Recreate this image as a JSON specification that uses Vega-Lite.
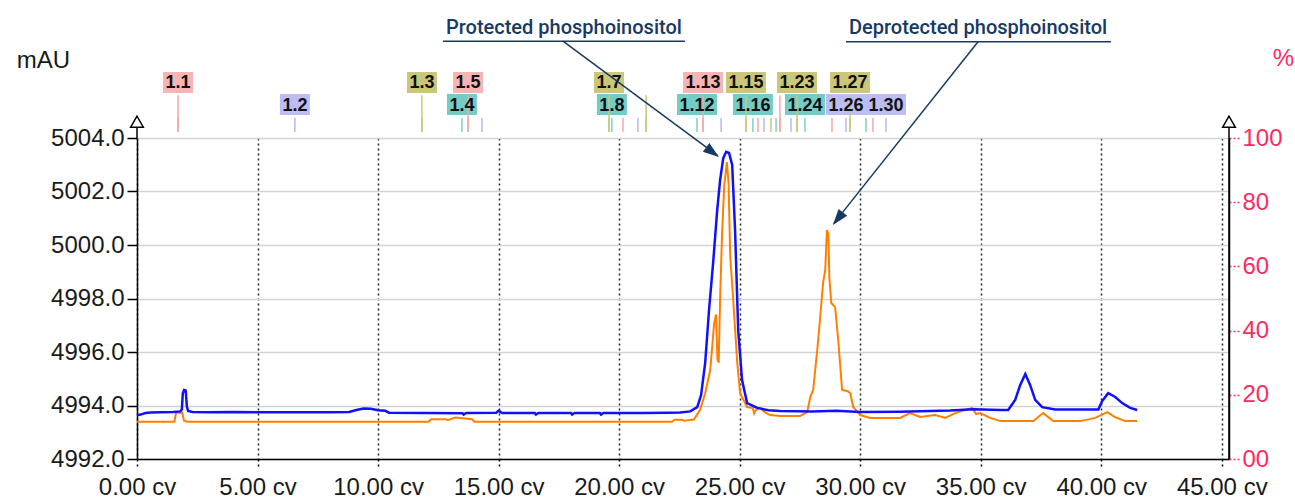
{
  "$schema": "https://vega.github.io/schema/vega-lite/v6.json",
  "autosize": "none",
  "width": 1092,
  "height": 321,
  "padding": {"left": 137, "top": 138, "right": 66, "bottom": 43},
  "background": "white",
  "config": {
    "view": {"stroke": null},
    "axis": {
      "labelFont": "Liberation Sans", "labelFontSize": 24, "labelColor": "#1a1a1a",
      "titleFont": "Liberation Sans", "titleFontSize": 24, "titleFontWeight": "normal", "titleColor": "#1a1a1a",
      "domainColor": "#000000", "domainWidth": 1.5, "tickColor": "#000000", "tickWidth": 1.5
    }
  },
  "datasets": {
    "blue": [
      {"cv": 0.00, "mAU": 4993.64}, {"cv": 0.15, "mAU": 4993.66}, {"cv": 0.35, "mAU": 4993.72}, {"cv": 0.55, "mAU": 4993.74},
      {"cv": 1.00, "mAU": 4993.75}, {"cv": 1.50, "mAU": 4993.76}, {"cv": 1.80, "mAU": 4993.78}, {"cv": 1.86, "mAU": 4993.85},
      {"cv": 1.90, "mAU": 4994.45}, {"cv": 1.95, "mAU": 4994.58}, {"cv": 2.02, "mAU": 4994.56}, {"cv": 2.07, "mAU": 4993.95},
      {"cv": 2.12, "mAU": 4993.80}, {"cv": 2.30, "mAU": 4993.76}, {"cv": 3.00, "mAU": 4993.75}, {"cv": 4.00, "mAU": 4993.76},
      {"cv": 5.00, "mAU": 4993.75}, {"cv": 8.00, "mAU": 4993.75}, {"cv": 8.80, "mAU": 4993.76}, {"cv": 9.10, "mAU": 4993.83},
      {"cv": 9.40, "mAU": 4993.89}, {"cv": 9.70, "mAU": 4993.88}, {"cv": 10.00, "mAU": 4993.82}, {"cv": 10.30, "mAU": 4993.80},
      {"cv": 10.45, "mAU": 4993.73}, {"cv": 12.00, "mAU": 4993.72}, {"cv": 13.50, "mAU": 4993.71}, {"cv": 13.55, "mAU": 4993.66},
      {"cv": 13.65, "mAU": 4993.72}, {"cv": 14.90, "mAU": 4993.73}, {"cv": 15.00, "mAU": 4993.80}, {"cv": 15.15, "mAU": 4993.72},
      {"cv": 16.50, "mAU": 4993.72}, {"cv": 16.55, "mAU": 4993.66}, {"cv": 16.65, "mAU": 4993.72}, {"cv": 18.00, "mAU": 4993.72},
      {"cv": 18.05, "mAU": 4993.66}, {"cv": 18.15, "mAU": 4993.72}, {"cv": 19.20, "mAU": 4993.72}, {"cv": 19.25, "mAU": 4993.66},
      {"cv": 19.35, "mAU": 4993.72}, {"cv": 21.00, "mAU": 4993.72}, {"cv": 22.00, "mAU": 4993.73}, {"cv": 22.53, "mAU": 4993.74},
      {"cv": 22.95, "mAU": 4993.78}, {"cv": 23.24, "mAU": 4993.94}, {"cv": 23.40, "mAU": 4994.39}, {"cv": 23.57, "mAU": 4995.59},
      {"cv": 23.73, "mAU": 4997.57}, {"cv": 23.90, "mAU": 4999.33}, {"cv": 24.07, "mAU": 5001.31}, {"cv": 24.19, "mAU": 5002.43},
      {"cv": 24.32, "mAU": 5003.25}, {"cv": 24.44, "mAU": 5003.48}, {"cv": 24.56, "mAU": 5003.44}, {"cv": 24.69, "mAU": 5002.99},
      {"cv": 24.81, "mAU": 5000.56}, {"cv": 24.94, "mAU": 4996.82}, {"cv": 25.10, "mAU": 4994.95}, {"cv": 25.31, "mAU": 4994.09},
      {"cv": 25.73, "mAU": 4993.91}, {"cv": 26.20, "mAU": 4993.82}, {"cv": 26.68, "mAU": 4993.79}, {"cv": 28.00, "mAU": 4993.78},
      {"cv": 29.00, "mAU": 4993.80}, {"cv": 30.00, "mAU": 4993.76}, {"cv": 31.66, "mAU": 4993.77}, {"cv": 33.73, "mAU": 4993.81},
      {"cv": 34.69, "mAU": 4993.86}, {"cv": 35.81, "mAU": 4993.83}, {"cv": 36.14, "mAU": 4993.83}, {"cv": 36.43, "mAU": 4994.21},
      {"cv": 36.64, "mAU": 4994.77}, {"cv": 36.85, "mAU": 4995.18}, {"cv": 37.05, "mAU": 4994.77}, {"cv": 37.26, "mAU": 4994.21},
      {"cv": 37.55, "mAU": 4993.94}, {"cv": 38.09, "mAU": 4993.85}, {"cv": 39.88, "mAU": 4993.85}, {"cv": 40.04, "mAU": 4994.17},
      {"cv": 40.29, "mAU": 4994.46}, {"cv": 40.58, "mAU": 4994.32}, {"cv": 40.87, "mAU": 4994.09}, {"cv": 41.20, "mAU": 4993.91},
      {"cv": 41.49, "mAU": 4993.83}
    ],
    "orange": [
      {"cv": 0.00, "pct": 11.6}, {"cv": 1.55, "pct": 11.6}, {"cv": 1.62, "pct": 14.4}, {"cv": 1.88, "pct": 14.4},
      {"cv": 1.95, "pct": 11.9}, {"cv": 2.10, "pct": 11.6}, {"cv": 12.10, "pct": 11.6}, {"cv": 12.20, "pct": 12.4},
      {"cv": 12.80, "pct": 12.4}, {"cv": 12.90, "pct": 12.1}, {"cv": 13.00, "pct": 12.4}, {"cv": 13.20, "pct": 12.9},
      {"cv": 13.50, "pct": 12.7}, {"cv": 13.90, "pct": 12.4}, {"cv": 14.00, "pct": 11.6}, {"cv": 22.20, "pct": 11.6},
      {"cv": 22.30, "pct": 12.2}, {"cv": 22.60, "pct": 12.2}, {"cv": 22.70, "pct": 11.9}, {"cv": 23.10, "pct": 12.3},
      {"cv": 23.36, "pct": 15.3}, {"cv": 23.57, "pct": 20.5}, {"cv": 23.78, "pct": 27.7}, {"cv": 23.94, "pct": 42},
      {"cv": 24.02, "pct": 45}, {"cv": 24.08, "pct": 31}, {"cv": 24.13, "pct": 30}, {"cv": 24.19, "pct": 50},
      {"cv": 24.27, "pct": 70}, {"cv": 24.36, "pct": 85}, {"cv": 24.47, "pct": 92.5}, {"cv": 24.54, "pct": 86},
      {"cv": 24.61, "pct": 63}, {"cv": 24.73, "pct": 50}, {"cv": 24.90, "pct": 30}, {"cv": 25.02, "pct": 20.5},
      {"cv": 25.31, "pct": 16.2}, {"cv": 25.55, "pct": 15.9}, {"cv": 25.60, "pct": 14.2}, {"cv": 25.70, "pct": 15.5},
      {"cv": 25.85, "pct": 15.9}, {"cv": 26.06, "pct": 14.5}, {"cv": 26.27, "pct": 13.7}, {"cv": 26.68, "pct": 13.4},
      {"cv": 27.51, "pct": 13.4}, {"cv": 27.80, "pct": 14.6}, {"cv": 27.93, "pct": 19.3}, {"cv": 28.05, "pct": 21.5},
      {"cv": 28.22, "pct": 34}, {"cv": 28.34, "pct": 44}, {"cv": 28.46, "pct": 54.8}, {"cv": 28.55, "pct": 58.9},
      {"cv": 28.62, "pct": 71.3}, {"cv": 28.68, "pct": 70}, {"cv": 28.72, "pct": 56.7}, {"cv": 28.80, "pct": 48.6},
      {"cv": 28.96, "pct": 47.3}, {"cv": 29.09, "pct": 37}, {"cv": 29.25, "pct": 21.5}, {"cv": 29.46, "pct": 21.2},
      {"cv": 29.59, "pct": 20.5}, {"cv": 29.71, "pct": 16.2}, {"cv": 30.00, "pct": 13.7}, {"cv": 30.41, "pct": 12.8},
      {"cv": 30.83, "pct": 12.8}, {"cv": 31.66, "pct": 12.8}, {"cv": 32.07, "pct": 14.3}, {"cv": 32.49, "pct": 13.1},
      {"cv": 33.11, "pct": 13.7}, {"cv": 33.53, "pct": 12.8}, {"cv": 33.94, "pct": 14.3}, {"cv": 34.36, "pct": 15.3},
      {"cv": 34.65, "pct": 15.9}, {"cv": 34.81, "pct": 14.0}, {"cv": 34.98, "pct": 14.3}, {"cv": 35.39, "pct": 12.8},
      {"cv": 35.81, "pct": 11.8}, {"cv": 37.18, "pct": 11.8}, {"cv": 37.59, "pct": 14.3}, {"cv": 38.01, "pct": 11.8},
      {"cv": 39.13, "pct": 11.8}, {"cv": 39.75, "pct": 12.8}, {"cv": 40.25, "pct": 14.6}, {"cv": 40.58, "pct": 13.0},
      {"cv": 41.00, "pct": 11.8}, {"cv": 41.49, "pct": 11.8}
    ],
    "fractions": [
      {"frac": 1, "label": "1.1", "cv": 1.70, "labeled": true},
      {"frac": 2, "label": "1.2", "cv": 6.55, "labeled": true},
      {"frac": 3, "label": "1.3", "cv": 11.82, "labeled": true},
      {"frac": 4, "label": "1.4", "cv": 13.48, "labeled": true},
      {"frac": 5, "label": "1.5", "cv": 13.73, "labeled": true},
      {"frac": 6, "label": "1.6", "cv": 14.31, "labeled": false},
      {"frac": 7, "label": "1.7", "cv": 19.58, "labeled": true},
      {"frac": 8, "label": "1.8", "cv": 19.70, "labeled": true},
      {"frac": 9, "label": "1.9", "cv": 20.16, "labeled": false},
      {"frac": 10, "label": "1.10", "cv": 20.78, "labeled": false},
      {"frac": 11, "label": "1.11", "cv": 21.12, "labeled": false},
      {"frac": 12, "label": "1.12", "cv": 23.23, "labeled": true},
      {"frac": 13, "label": "1.13", "cv": 23.48, "labeled": true},
      {"frac": 14, "label": "1.14", "cv": 24.23, "labeled": false},
      {"frac": 15, "label": "1.15", "cv": 25.26, "labeled": true},
      {"frac": 16, "label": "1.16", "cv": 25.55, "labeled": true},
      {"frac": 17, "label": "1.17", "cv": 25.76, "labeled": false},
      {"frac": 18, "label": "1.18", "cv": 26.01, "labeled": false},
      {"frac": 19, "label": "1.19", "cv": 26.30, "labeled": false},
      {"frac": 20, "label": "1.20", "cv": 26.51, "labeled": false},
      {"frac": 21, "label": "1.21", "cv": 26.67, "labeled": false},
      {"frac": 22, "label": "1.22", "cv": 27.13, "labeled": false},
      {"frac": 23, "label": "1.23", "cv": 27.38, "labeled": true},
      {"frac": 24, "label": "1.24", "cv": 27.71, "labeled": true},
      {"frac": 25, "label": "1.25", "cv": 28.83, "labeled": false},
      {"frac": 26, "label": "1.26", "cv": 29.41, "labeled": true},
      {"frac": 27, "label": "1.27", "cv": 29.58, "labeled": true},
      {"frac": 28, "label": "1.28", "cv": 30.24, "labeled": false},
      {"frac": 29, "label": "1.29", "cv": 30.53, "labeled": false},
      {"frac": 30, "label": "1.30", "cv": 31.07, "labeled": true}
    ]
  },
  "layer": [
    {
      "data": {"name": "orange"},
      "mark": {"type": "line", "color": "#ff8000", "strokeWidth": 2},
      "encoding": {
        "x": {
          "field": "cv", "type": "quantitative",
          "scale": {"domain": [0, 45.3], "nice": false, "zero": false},
          "axis": {
            "title": null, "values": [0, 5, 10, 15, 20, 25, 30, 35, 40, 45],
            "labelExpr": "format(datum.value, '.2f') + ' cv'",
            "grid": true, "gridColor": "#222222", "gridDash": [2, 3], "gridWidth": 1.5,
            "tickSize": 10, "tickDash": [2, 3], "labelPadding": 6,
            "labelOverlap": false, "labelFlush": false
          }
        },
        "y": {
          "field": "pct", "type": "quantitative",
          "scale": {"domain": [0, 100], "nice": false, "zero": false},
          "axis": {
            "orient": "right", "values": [0, 20, 40, 60, 80, 100],
            "labelExpr": "datum.value == 0 ? '00' : datum.label",
            "labelColor": "#ff2a60", "tickColor": "#ff2a60", "tickDash": [2, 2],
            "tickSize": 10, "labelPadding": 3, "grid": false,
            "title": "%", "titleColor": "#ff2a60", "titleAngle": 0,
            "titleX": 54, "titleY": -80, "titleAlign": "center", "titleBaseline": "middle"
          }
        }
      }
    },
    {
      "layer": [
        {
          "data": {"name": "blue"},
          "mark": {"type": "line", "color": "#1010ff", "strokeWidth": 2.5},
          "encoding": {
            "x": {"field": "cv", "type": "quantitative"},
            "y": {
              "field": "mAU", "type": "quantitative",
              "scale": {"domain": [4992, 5004], "nice": false, "zero": false},
              "axis": {
                "orient": "left", "values": [4992, 4994, 4996, 4998, 5000, 5002, 5004],
                "format": ".1f", "grid": true, "gridColor": "#d3d3d3", "gridWidth": 1.5,
                "tickSize": 10, "labelPadding": 3,
                "title": "mAU", "titleAngle": 0, "titleX": -94, "titleY": -78,
                "titleAlign": "center", "titleBaseline": "middle"
              }
            }
          }
        },
        {
          "data": {"name": "fractions"},
          "transform": [{"filter": "datum.labeled && datum.frac % 2 == 1"}],
          "mark": {"type": "point", "filled": true, "size": 400, "opacity": 1, "strokeWidth": 0},
          "encoding": {
            "x": {"field": "cv", "type": "quantitative"},
            "y": {"datum": 5006.075, "type": "quantitative"},
            "shape": {"condition": {"test": "length(datum.label) > 3", "value": "M-2,-1.05L2,-1.05L2,1.05L-2,1.05Z"}, "value": "M-1.5,-1.05L1.5,-1.05L1.5,1.05L-1.5,1.05Z"},
            "fill": {"condition": [
              {"test": "datum.frac % 4 == 1", "value": "#f6b4b4"},
              {"test": "datum.frac % 4 == 2", "value": "#bdbdf6"},
              {"test": "datum.frac % 4 == 3", "value": "#cac67a"}
            ], "value": "#74ccc6"}
          }
        },
        {
          "data": {"name": "fractions"},
          "transform": [{"filter": "datum.labeled && datum.frac % 2 == 0"}],
          "mark": {"type": "point", "filled": true, "size": 400, "opacity": 1, "strokeWidth": 0},
          "encoding": {
            "x": {"field": "cv", "type": "quantitative"},
            "y": {"datum": 5005.252, "type": "quantitative"},
            "shape": {"condition": {"test": "length(datum.label) > 3", "value": "M-2,-1.05L2,-1.05L2,1.05L-2,1.05Z"}, "value": "M-1.5,-1.05L1.5,-1.05L1.5,1.05L-1.5,1.05Z"},
            "fill": {"condition": [
              {"test": "datum.frac % 4 == 1", "value": "#f6b4b4"},
              {"test": "datum.frac % 4 == 2", "value": "#bdbdf6"},
              {"test": "datum.frac % 4 == 3", "value": "#cac67a"}
            ], "value": "#74ccc6"}
          }
        },
        {
          "data": {"name": "fractions"},
          "mark": {"type": "rule", "strokeWidth": 1.5},
          "encoding": {
            "x": {"field": "cv", "type": "quantitative"},
            "y": {"datum": 5004.224, "type": "quantitative"},
            "y2": {"datum": 5004.748},
            "stroke": {"condition": [
              {"test": "datum.frac % 4 == 1", "value": "#f4a8a8"},
              {"test": "datum.frac % 4 == 2", "value": "#b8b8f0"},
              {"test": "datum.frac % 4 == 3", "value": "#c9c77e"}
            ], "value": "#7fd0c8"}
          }
        },
        {
          "data": {"name": "fractions"},
          "transform": [{"filter": "(datum.labeled && datum.frac % 2 == 1) || datum.frac == 11 || datum.frac == 21"}],
          "mark": {"type": "rule", "strokeWidth": 1.5},
          "encoding": {
            "x": {"field": "cv", "type": "quantitative"},
            "y": {"datum": 5004.224, "type": "quantitative"},
            "y2": {"datum": 5005.6},
            "stroke": {"condition": [
              {"test": "datum.frac % 4 == 1", "value": "#f4a8a8"},
              {"test": "datum.frac % 4 == 2", "value": "#b8b8f0"},
              {"test": "datum.frac % 4 == 3", "value": "#c9c77e"}
            ], "value": "#7fd0c8"}
          }
        },
        {
          "data": {"name": "fractions"},
          "transform": [{"filter": "datum.labeled && datum.frac % 2 == 1"}],
          "mark": {"type": "text", "font": "Liberation Sans", "fontWeight": "bold", "fontSize": 18, "color": "#111111", "align": "center", "baseline": "middle", "dy": 1},
          "encoding": {
            "x": {"field": "cv", "type": "quantitative"},
            "y": {"datum": 5006.075, "type": "quantitative"},
            "text": {"field": "label"}
          }
        },
        {
          "data": {"name": "fractions"},
          "transform": [{"filter": "datum.labeled && datum.frac % 2 == 0"}],
          "mark": {"type": "text", "font": "Liberation Sans", "fontWeight": "bold", "fontSize": 18, "color": "#111111", "align": "center", "baseline": "middle", "dy": 1},
          "encoding": {
            "x": {"field": "cv", "type": "quantitative"},
            "y": {"datum": 5005.252, "type": "quantitative"},
            "text": {"field": "label"}
          }
        },
        {
          "data": {"values": [{}]},
          "mark": {"type": "rule", "color": "#000000", "strokeWidth": 1.5},
          "encoding": {
            "x": {"datum": 0, "type": "quantitative"},
            "y": {"datum": 5004, "type": "quantitative"},
            "y2": {"datum": 5004.42}
          }
        },
        {
          "data": {"values": [{}]},
          "mark": {"type": "rule", "color": "#000000", "strokeWidth": 1.5},
          "encoding": {
            "x": {"datum": 45.3, "type": "quantitative"},
            "y": {"datum": 4992, "type": "quantitative"},
            "y2": {"datum": 5004.42}
          }
        },
        {
          "data": {"values": [{}]},
          "mark": {"type": "point", "shape": "triangle-up", "size": 160, "filled": true, "fill": "#ffffff", "stroke": "#000000", "strokeWidth": 1.5, "opacity": 1},
          "encoding": {
            "x": {"datum": 0, "type": "quantitative"},
            "y": {"datum": 5004.61, "type": "quantitative"}
          }
        },
        {
          "data": {"values": [{}]},
          "mark": {"type": "point", "shape": "triangle-up", "size": 160, "filled": true, "fill": "#ffffff", "stroke": "#000000", "strokeWidth": 1.5, "opacity": 1},
          "encoding": {
            "x": {"datum": 45.3, "type": "quantitative"},
            "y": {"datum": 5004.61, "type": "quantitative"}
          }
        },
        {
          "data": {"values": [{}]},
          "mark": {"type": "text", "text": "Protected phosphoinositol", "font": "Roboto", "fontWeight": 500, "fontSize": 20, "color": "#173a63", "align": "center", "baseline": "alphabetic"},
          "encoding": {
            "x": {"datum": 17.71, "type": "quantitative"},
            "y": {"datum": 5007.89, "type": "quantitative"}
          }
        },
        {
          "data": {"values": [{}]},
          "mark": {"type": "text", "text": "Deprotected phosphoinositol", "font": "Roboto", "fontWeight": 500, "fontSize": 20, "color": "#173a63", "align": "center", "baseline": "alphabetic"},
          "encoding": {
            "x": {"datum": 34.89, "type": "quantitative"},
            "y": {"datum": 5007.89, "type": "quantitative"}
          }
        },
        {
          "data": {"values": [{}]},
          "mark": {"type": "rule", "color": "#173a63", "strokeWidth": 1.5},
          "encoding": {
            "x": {"datum": 12.69, "type": "quantitative"},
            "x2": {"datum": 22.73},
            "y": {"datum": 5007.62, "type": "quantitative"}
          }
        },
        {
          "data": {"values": [{}]},
          "mark": {"type": "rule", "color": "#173a63", "strokeWidth": 1.5},
          "encoding": {
            "x": {"datum": 29.41, "type": "quantitative"},
            "x2": {"datum": 40.40},
            "y": {"datum": 5007.60, "type": "quantitative"}
          }
        },
        {
          "data": {"values": [{}]},
          "mark": {"type": "rule", "color": "#173a63", "strokeWidth": 1.5},
          "encoding": {
            "x": {"datum": 17.67, "type": "quantitative"},
            "y": {"datum": 5007.62, "type": "quantitative"},
            "x2": {"datum": 24.10},
            "y2": {"datum": 5003.33}
          }
        },
        {
          "data": {"values": [{}]},
          "mark": {"type": "rule", "color": "#173a63", "strokeWidth": 1.5},
          "encoding": {
            "x": {"datum": 34.89, "type": "quantitative"},
            "y": {"datum": 5007.60, "type": "quantitative"},
            "x2": {"datum": 28.90},
            "y2": {"datum": 5000.80}
          }
        },
        {
          "data": {"values": [{}]},
          "mark": {"type": "point", "shape": "M0,0L1.1,3.2L-1.1,3.2Z", "size": 100, "angle": 126.6, "filled": true, "fill": "#173a63", "strokeWidth": 0, "opacity": 1},
          "encoding": {
            "x": {"datum": 24.14, "type": "quantitative"},
            "y": {"datum": 5003.29, "type": "quantitative"}
          }
        },
        {
          "data": {"values": [{}]},
          "mark": {"type": "point", "shape": "M0,0L1.1,3.2L-1.1,3.2Z", "size": 100, "angle": 218.4, "filled": true, "fill": "#173a63", "strokeWidth": 0, "opacity": 1},
          "encoding": {
            "x": {"datum": 28.87, "type": "quantitative"},
            "y": {"datum": 5000.75, "type": "quantitative"}
          }
        }
      ]
    }
  ],
  "resolve": {"scale": {"y": "independent"}, "axis": {"y": "independent"}}
}
